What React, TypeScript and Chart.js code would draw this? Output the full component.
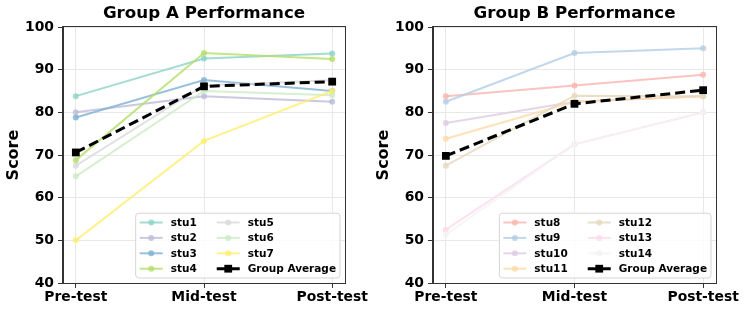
import React, { useEffect, useRef } from "react";
import { Chart, registerables } from "chart.js";

Chart.register(...registerables);

const categories = ["Pre-test", "Mid-test", "Post-test"];
const yTicks = [40, 50, 60, 70, 80, 90, 100];

const groupALabels = ["stu1", "stu2", "stu3", "stu4", "stu5", "stu6", "stu7"];
const stu1 = [83.8, 92.6, 93.8];
const stu2 = [80.0, 83.8, 82.5];
const stu3 = [78.8, 87.6, 85.0];
const stu4 = [68.8, 93.9, 92.5];
const stu5 = [67.5, 86.3, 87.5];
const stu6 = [65.0, 85.0, 84.0];
const stu7 = [50.0, 73.3, 85.0];
const avgA = [70.6, 86.1, 87.2];
const groupAValues = [stu1, stu2, stu3, stu4, stu5, stu6, stu7];
const groupAColors = ["#8dd3c7", "#bebada", "#80b1d3", "#b3de69", "#d9d9d9", "#ccebc5", "#ffed6f"];

const groupBLabels = ["stu8", "stu9", "stu10", "stu11", "stu12", "stu13", "stu14"];
const stu8 = [83.8, 86.3, 88.8];
const stu9 = [82.5, 93.9, 95.0];
const stu10 = [77.5, 82.5, 83.8];
const stu11 = [73.8, 82.5, 83.8];
const stu12 = [67.5, 83.9, 83.8];
const stu13 = [52.5, 72.5, 80.0];
const stu14 = [51.3, 72.6, 80.0];
const avgB = [69.8, 82.0, 85.2];
const groupBValues = [stu8, stu9, stu10, stu11, stu12, stu13, stu14];
const groupBColors = ["#fbb4ae", "#b3cde3", "#decbe4", "#fed9a6", "#e5d8bd", "#fddaec", "#f2f2f2"];

const FONT = '"DejaVu Sans", "Liberation Sans", sans-serif';

function hexA(hex: string, a: number) {
  const r = parseInt(hex.slice(1, 3), 16);
  const g = parseInt(hex.slice(3, 5), 16);
  const b = parseInt(hex.slice(5, 7), 16);
  return `rgba(${r},${g},${b},${a})`;
}

const framePlugin = {
  id: "frame",
  afterDatasetsDraw(chart: any) {
    const { ctx, chartArea: a } = chart;
    ctx.save();
    ctx.strokeStyle = "#333";
    ctx.lineWidth = 1;
    ctx.strokeRect(Math.round(a.left) - 0.5, Math.round(a.top) - 0.5, Math.round(a.right - a.left) + 1, Math.round(a.bottom - a.top) + 1);
    ctx.restore();
  },
};

const legendPlugin = {
  id: "innerLegend",
  afterDraw(chart: any) {
    const { ctx, chartArea: a } = chart;
    const ds = chart.data.datasets;
    const rows = 4;
    const fs = 10.5;
    const handleLen = 23, handleGap = 8, colGap = 20, padX = 4, rowH = 15.4, padY = 9.3;
    ctx.save();
    ctx.font = `bold ${fs}px ${FONT}`;
    const cols = Math.ceil(ds.length / rows);
    const colW: number[] = [];
    for (let c = 0; c < cols; c++) {
      let m = 0;
      for (let r = 0; r < rows; r++) {
        const d = ds[c * rows + r];
        if (d) m = Math.max(m, ctx.measureText(d.label).width);
      }
      colW.push(m);
    }
    let w = padX * 2 + colGap * (cols - 1);
    colW.forEach((cw) => (w += handleLen + handleGap + cw));
    const h = padY * 2 + rowH * (rows - 1);
    const x0 = a.right - 5 - w;
    const y0 = a.bottom - 5 - h;
    // box
    const rr = 3;
    ctx.beginPath();
    ctx.moveTo(x0 + rr, y0);
    ctx.lineTo(x0 + w - rr, y0);
    ctx.quadraticCurveTo(x0 + w, y0, x0 + w, y0 + rr);
    ctx.lineTo(x0 + w, y0 + h - rr);
    ctx.quadraticCurveTo(x0 + w, y0 + h, x0 + w - rr, y0 + h);
    ctx.lineTo(x0 + rr, y0 + h);
    ctx.quadraticCurveTo(x0, y0 + h, x0, y0 + h - rr);
    ctx.lineTo(x0, y0 + rr);
    ctx.quadraticCurveTo(x0, y0, x0 + rr, y0);
    ctx.closePath();
    ctx.fillStyle = "rgba(255,255,255,0.8)";
    ctx.fill();
    ctx.strokeStyle = "#d5d5d5";
    ctx.lineWidth = 1;
    ctx.stroke();
    let cx = x0 + padX;
    for (let c = 0; c < cols; c++) {
      for (let r = 0; r < rows; r++) {
        const d = ds[c * rows + r];
        if (!d) continue;
        const y = y0 + padY + r * rowH;
        ctx.save();
        ctx.strokeStyle = d.borderColor;
        ctx.lineWidth = d.borderWidth;
        ctx.setLineDash(d.borderDash || []);
        ctx.beginPath();
        ctx.moveTo(cx, y);
        ctx.lineTo(cx + handleLen, y);
        ctx.stroke();
        ctx.setLineDash([]);
        ctx.fillStyle = d.pointBackgroundColor;
        const mx = cx + handleLen / 2;
        if (d.pointStyle === "rect") {
          const s = d.pointRadius * Math.SQRT1_2;
          ctx.fillRect(mx - s, y - s, 2 * s, 2 * s);
        } else {
          ctx.beginPath();
          ctx.arc(mx, y, d.pointRadius, 0, Math.PI * 2);
          ctx.fill();
        }
        ctx.restore();
        ctx.fillStyle = "#000";
        ctx.textBaseline = "middle";
        ctx.textAlign = "left";
        ctx.fillText(d.label, cx + handleLen + handleGap, y + 0.5);
      }
      cx += handleLen + handleGap + colW[c] + colGap;
    }
    ctx.restore();
  },
};

function buildDatasets(labels: string[], values: number[][], colors: string[], avg: number[]) {
  const n = labels.length;
  const sets: any[] = labels.map((lab, i) => ({
    label: lab,
    data: values[i].map((v, j) => ({ x: j, y: v })),
    borderColor: hexA(colors[i], 0.8),
    backgroundColor: hexA(colors[i], 0.8),
    pointBackgroundColor: hexA(colors[i], 0.8),
    pointBorderWidth: 0,
    borderWidth: 2,
    pointRadius: 3,
    pointStyle: "circle",
    order: n - i,
  }));
  sets.push({
    label: "Group Average",
    data: avg.map((v, j) => ({ x: j, y: v })),
    borderColor: "#000",
    backgroundColor: "#000",
    pointBackgroundColor: "#000",
    pointBorderWidth: 0,
    borderWidth: 3,
    borderDash: [10, 5],
    pointRadius: 5.5,
    pointStyle: "rect",
    order: 0,
  });
  return sets;
}

function makeConfig(title: string, datasets: any[]): any {
  return {
    type: "line",
    data: { datasets },
    plugins: [framePlugin, legendPlugin],
    options: {
      animation: false,
      responsive: false,
      devicePixelRatio: 1,
      layout: { padding: { left: 0, right: 29, top: 0, bottom: 0 } },
      plugins: {
        legend: { display: false },
        tooltip: { enabled: false },
        title: {
          display: true,
          text: title,
          fullSize: false,
          color: "#000",
          font: { family: FONT, size: 16.7, weight: "bold", lineHeight: 1.2 },
          padding: { top: 4, bottom: 3 },
        },
      },
      scales: {
        x: {
          type: "linear",
          min: -0.1,
          max: 2.1,
          afterBuildTicks: (s: any) => {
            s.ticks = categories.map((_, i) => ({ value: i }));
          },
          afterFit: (s: any) => {
            s.height = 29;
          },
          ticks: {
            color: "#000",
            font: { family: FONT, size: 13.9, weight: "bold" },
            padding: 1,
            maxRotation: 0,
            autoSkip: false,
            callback: (v: any) => categories[Math.round(v)] ?? "",
          },
          grid: { color: "#e8e8e8", tickColor: "#333", tickLength: 5, lineWidth: 1 },
          border: { display: true, color: "#333" },
        },
        y: {
          type: "linear",
          min: 40,
          max: 100,
          afterBuildTicks: (s: any) => {
            s.ticks = yTicks.map((v) => ({ value: v }));
          },
          afterFit: (s: any) => {
            s.width = 63;
          },
          ticks: {
            color: "#000",
            font: { family: FONT, size: 13.9, weight: "bold" },
            padding: 4,
          },
          grid: { color: "#e8e8e8", tickColor: "#333", tickLength: 5, lineWidth: 1 },
          border: { display: true, color: "#333" },
          title: {
            display: true,
            text: "Score",
            color: "#000",
            font: { family: FONT, size: 16, weight: "bold", lineHeight: 1.2 },
            padding: { top: 4, bottom: 0 },
          },
        },
      },
    },
  };
}

function ChartCanvas({ config, left }: { config: any; left: number }) {
  const ref = useRef<HTMLCanvasElement | null>(null);
  useEffect(() => {
    if (!ref.current) return;
    const chart = new Chart(ref.current, config);
    return () => chart.destroy();
  }, [config]);
  return (
    <canvas
      ref={ref}
      width={374}
      height={312}
      style={{ position: "absolute", left, top: 0, width: 374, height: 312 }}
    />
  );
}

const configA = makeConfig("Group A Performance", buildDatasets(groupALabels, groupAValues, groupAColors, avgA));
const configB = makeConfig("Group B Performance", buildDatasets(groupBLabels, groupBValues, groupBColors, avgB));
configB.options.layout.padding.right = 28;

export default function App() {
  return (
    <div style={{ position: "fixed", left: 0, top: 0, width: 748, height: 312, background: "#fff", overflow: "hidden" }}>
      <ChartCanvas config={configA} left={0} />
      <ChartCanvas config={configB} left={370} />
    </div>
  );
}
